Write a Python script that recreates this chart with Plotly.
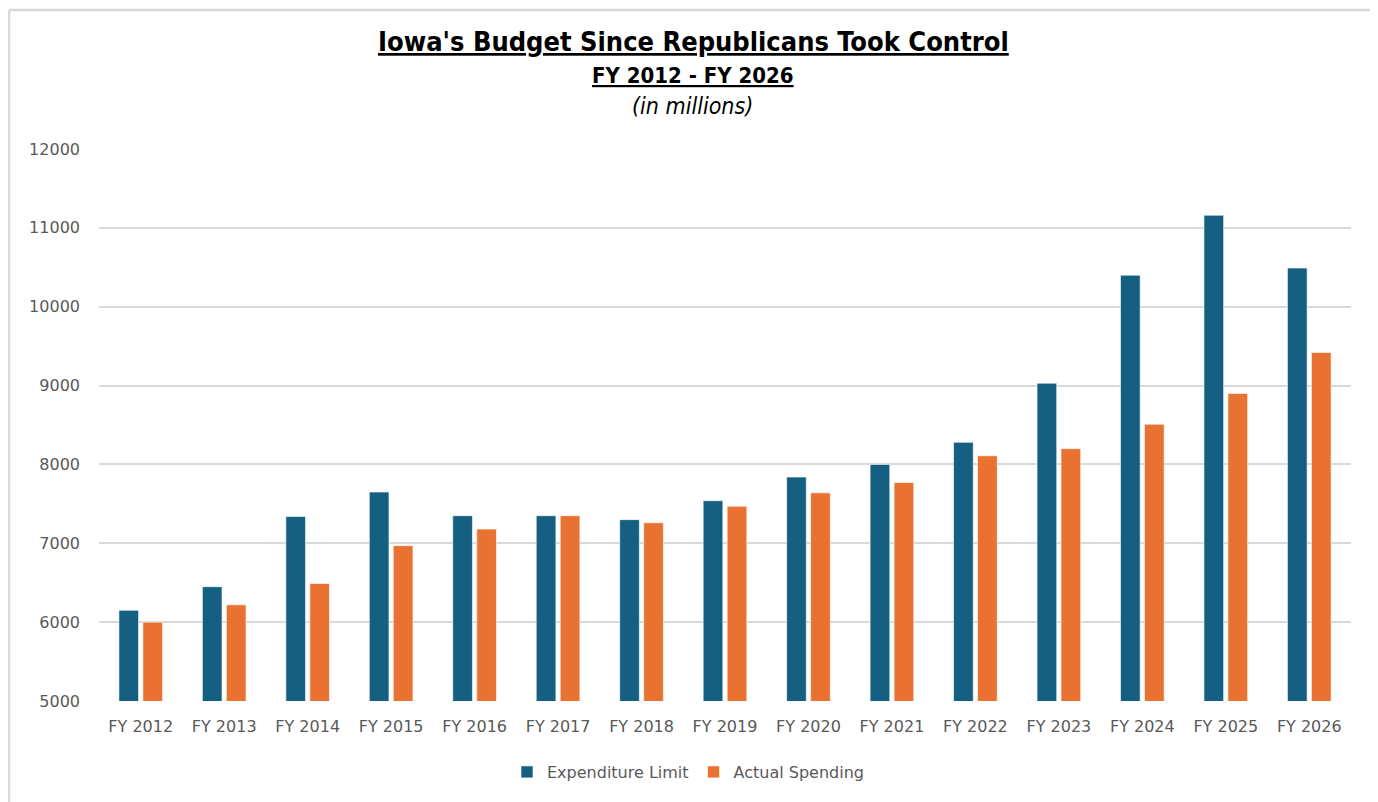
import plotly.graph_objects as go

categories = ["FY 2012", "FY 2013", "FY 2014", "FY 2015", "FY 2016", "FY 2017", "FY 2018",
              "FY 2019", "FY 2020", "FY 2021", "FY 2022", "FY 2023", "FY 2024", "FY 2025", "FY 2026"]
expenditure_limit = [6150, 6450, 7340, 7650, 7350, 7350, 7300, 7540, 7840, 8000, 8280, 9030, 10400, 11160, 10490]
actual_spending = [6000, 6220, 6490, 6970, 7180, 7350, 7260, 7470, 7640, 7770, 8110, 8200, 8510, 8900, 9420]
y_ticks = [5000, 6000, 7000, 8000, 9000, 10000, 11000, 12000]
y_tick_labels = [str(v) for v in y_ticks]

BLUE = "#156082"
ORANGE = "#E97132"
GRAY_TXT = "#595959"
TITLE_FONT = "DejaVu Sans Condensed, Liberation Sans Narrow, sans-serif"
TICK_FONT = "DejaVu Sans, sans-serif"

fig = go.Figure()
fig.add_trace(go.Bar(x=categories, y=expenditure_limit, name="Expenditure Limit",
                     marker=dict(color=BLUE, line=dict(color="rgba(255,255,255,0.6)", width=1))))
fig.add_trace(go.Bar(x=categories, y=actual_spending, name="Actual Spending",
                     marker=dict(color=ORANGE, line=dict(color="rgba(255,255,255,0.6)", width=1))))

# page offset (body margin) of 8px
OFF = 8
W, H = 1378 - OFF, 802 - OFF
ml, mr, mt, mb = 99 - OFF, 27, 149 - OFF, 101
pw, ph = W - ml - mr, H - mt - mb


def px_x(x):
    return (x - OFF - ml) / pw


def px_y(y):
    return (H - mb - (y - OFF)) / ph


fig.update_layout(
    width=W, height=H,
    margin=dict(l=ml, r=mr, t=mt, b=mb),
    paper_bgcolor="white", plot_bgcolor="white",
    barmode="group", bargap=0.425, bargroupgap=0.18,
    showlegend=True,
    legend=dict(orientation="h", x=px_x(688), xanchor="center", y=px_y(772), yanchor="middle",
                font=dict(family=TICK_FONT, size=16, color=GRAY_TXT),
                itemwidth=30, traceorder="normal"),
    xaxis=dict(showgrid=False, showline=False, zeroline=False, ticks="",
               tickfont=dict(family=TICK_FONT, size=16, color=GRAY_TXT),
               ticklabelstandoff=14),
    yaxis=dict(range=[5000, 12000], tickvals=y_ticks, ticktext=y_tick_labels, showgrid=True,
               gridcolor="#d9d9d9", gridwidth=1.5, zeroline=False, showline=False,
               tickfont=dict(family=TICK_FONT, size=16, color=GRAY_TXT),
               ticklabelstandoff=18),
    annotations=[
        dict(text="<b><u>Iowa's Budget Since Republicans Took Control</u></b>", xref="paper", yref="paper",
             x=px_x(693), y=px_y(41), xanchor="center", yanchor="middle", showarrow=False,
             font=dict(family=TITLE_FONT, size=27, color="black")),
        dict(text="<b><u>FY 2012 - FY 2026</u></b>", xref="paper", yref="paper",
             x=px_x(693), y=px_y(75), xanchor="center", yanchor="middle", showarrow=False,
             font=dict(family=TITLE_FONT, size=22, color="black")),
        dict(text="<i>(in millions)</i>", xref="paper", yref="paper",
             x=px_x(692), y=px_y(106), xanchor="center", yanchor="middle", showarrow=False,
             font=dict(family=TITLE_FONT, size=23, color="black")),
    ],
    shapes=[
        dict(type="line", xref="paper", yref="paper", x0=px_x(9), x1=px_x(9), y0=px_y(10), y1=px_y(802 + 5),
             line=dict(color="#d9d9d9", width=2.5)),
        dict(type="line", xref="paper", yref="paper", x0=px_x(9), x1=px_x(1378 + 5), y0=px_y(10), y1=px_y(10),
             line=dict(color="#d9d9d9", width=2.5)),
    ],
)

fig.write_html("out.html")
